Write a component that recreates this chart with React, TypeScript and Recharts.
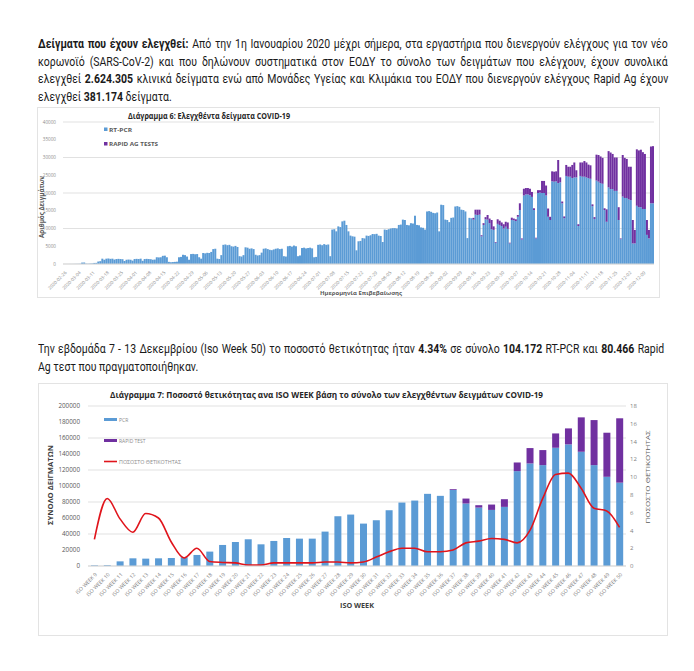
import React, { useLayoutEffect, useRef, useState } from "react";
import { BarChart, Bar, ComposedChart, Line, XAxis, YAxis, CartesianGrid } from "recharts";

// ---- Διάγραμμα 6: daily samples, ten days per row ----
const dailyStart = "2020-02-26";
const pcrDaily: number[] = [
  0, 0, 5, 10, 10, 20, 30, 40, 60, 400,
  420, 100, 80, 120, 150, 300, 320, 700, 800, 1500,
  1200, 1500, 1550, 1450, 1500, 1250, 1400, 1450, 1400, 1350,
  850, 1200, 1250, 1200, 950, 1400, 1450, 1400, 1500, 900,
  1400, 1450, 1400, 1350, 1200, 1250, 1900, 1850, 1900, 2300,
  2350, 1900, 600, 500, 550, 600, 650, 1900, 2000, 2600,
  2500, 2100, 1200, 2800, 2850, 2750, 2800, 1900, 1500, 3100,
  3000, 3150, 3100, 3400, 4200, 4300, 1500, 1400, 2500, 5400,
  5500, 5300, 5400, 5000, 4900, 5100, 4800, 2200, 2100, 2500,
  4700, 4600, 4300, 4400, 4200, 2600, 2400, 2500, 3200, 4300,
  4400, 4200, 4000, 3900, 4100, 4300, 4400, 4200, 4300, 2200,
  2100, 5000, 5100, 4900, 5200, 5000, 2200, 2400, 4500, 4600,
  4400, 4500, 4600, 4400, 1900, 2000, 5400, 5500, 5300, 5600,
  5400, 5500, 2200, 9700, 9800, 9200, 10600, 10400, 12000, 12200,
  11000, 9200, 8000, 7800, 7700, 3850, 6400, 6500, 7300, 7200,
  8000, 7900, 8100, 8450, 8400, 8500, 8000, 7900, 6200, 9700,
  9600, 9800, 10000, 10100, 10100, 10000, 11000, 11100, 12500, 12400,
  11000, 10900, 11500, 11400, 13600, 11000, 10900, 10300, 10200, 9700,
  14800, 14900, 14700, 14400, 14300, 14500, 9200, 16700, 16600, 12500,
  12400, 11800, 13000, 13100, 16200, 16300, 16100, 15300, 15200, 14800,
  7300, 13000, 12900, 12500, 13900, 13800, 13900, 7800, 11000, 12600,
  12500, 11500, 9800, 9600, 6000, 11300, 11000, 10700, 10000, 10500,
  9900, 5800, 12400, 12300, 12100, 13300, 15200, 6900, 19300, 19600,
  19600, 19400, 18900, 15200, 7200, 20000, 20100, 20000, 20000, 19300,
  13300, 12400, 23300, 23200, 23300, 22800, 23000, 17100, 12900, 24800,
  24600, 24600, 24200, 24400, 24400, 10700, 24800, 24600, 24600, 24400,
  24200, 24000, 16300, 12700, 23500, 23200, 22800, 22600, 15200, 11900,
  21600, 21100, 21100, 20600, 20600, 12400, 7000, 19000, 18600, 18600,
  18200, 18000, 5800, 5800, 16400, 16000, 16000, 15500, 15500, 8200,
  7200, 17100, 17100,
];
const rapidStart = "2020-09-16";
const rapidDaily: number[] = [
  500, 1400, 1500, 1400, 300, 500, 600,
  1300, 1300, 2600, 1000, 200, 1300, 1200, 1000, 1200, 1400,
  1800, 200, 650, 500, 500, 500, 1900, 300, 1900, 1800,
  1800, 1800, 1400, 500, 200, 800, 700, 3400, 3400, 2800,
  2300, 900, 2800, 2800, 2800, 6500, 1400, 500, 500, 3100,
  2800, 2800, 3700, 4200, 2000, 500, 3800, 4000, 4400, 4200,
  3800, 3800, 500, 500, 7300, 7500, 7500, 7300, 500, 3500,
  10200, 10300, 9900, 9400, 9400, 3600, 200, 11700, 11300, 11000,
  9200, 9400, 6600, 3800, 15900, 16000, 16200, 16000, 15500, 4200,
  2400, 16000, 16100,
];
const dailyTicks = [0, 5000, 10000, 15000, 20000, 25000, 30000, 35000, 40000];

// ---- Διάγραμμα 7: per ISO week ----
const isoWeeks = [
  "ISO WEEK 9", "ISO WEEK 10", "ISO WEEK 11", "ISO WEEK 12", "ISO WEEK 13", "ISO WEEK 14",
  "ISO WEEK 15", "ISO WEEK 16", "ISO WEEK 17", "ISO WEEK 18", "ISO WEEK 19", "ISO WEEK 20",
  "ISO WEEK 21", "ISO WEEK 22", "ISO WEEK 23", "ISO WEEK 24", "ISO WEEK 25", "ISO WEEK 26",
  "ISO WEEK 27", "ISO WEEK 28", "ISO WEEK 29", "ISO WEEK 30", "ISO WEEK 31", "ISO WEEK 32",
  "ISO WEEK 33", "ISO WEEK 34", "ISO WEEK 35", "ISO WEEK 36", "ISO WEEK 37", "ISO WEEK 38",
  "ISO WEEK 39", "ISO WEEK 40", "ISO WEEK 41", "ISO WEEK 42", "ISO WEEK 43", "ISO WEEK 44",
  "ISO WEEK 45", "ISO WEEK 46", "ISO WEEK 47", "ISO WEEK 48", "ISO WEEK 49", "ISO WEEK 50",
];
const pcrWeekly = [
  800, 1000, 5800, 9600, 9200, 9600, 10000, 11000, 13800, 18000, 26300, 30000, 33400, 27100,
  31300, 35000, 34200, 34200, 43000, 62200, 64300, 53000, 57200, 69700, 79300, 81800, 90200,
  87700, 95000, 78100, 73000, 70100, 73900, 118600, 128200, 126100, 147800, 152000, 142800,
  126100, 111500, 104172,
];
const rapidWeekly = [
  0, 0, 0, 0, 0, 0, 0, 0, 0, 0, 0, 0, 0, 0, 0, 0, 0, 0, 0, 0, 0, 0, 0, 0, 0, 0, 0, 0,
  1000, 6200, 3000, 6700, 9600, 10800, 19200, 18800, 17900, 20000, 43000, 56300, 55100, 80466,
];
const positivity = [
  3.0, 7.6, 5.3, 3.8, 5.9, 5.4, 2.7, 0.9, 2.0, 0.5, 0.4, 0.35, 0.1, 0.1, 0.35, 0.35, 0.35, 0.35,
  0.45, 0.45, 0.35, 0.45, 1.0, 1.6, 2.0, 2.0, 1.6, 1.6, 1.8, 2.6, 2.8, 3.1, 3.0, 2.6, 4.0, 7.6,
  10.3, 10.45, 8.75, 6.5, 6.2, 4.34,
];
const weeklyLeftTicks = [0, 20000, 40000, 60000, 80000, 100000, 120000, 140000, 160000, 180000, 200000];
const weeklyRightTicks = [0, 2, 4, 6, 8, 10, 12, 14, 16, 18];

const BLUE = "#5B9BD5";
const PURPLE = "#7030A0";
const RED = "#E0141B";
const GRID = "#D9D9D9";
const CHART_FONT = "'Open Sans', 'Noto Sans', sans-serif";

const dayIndex = (d: string) =>
  Math.round((Date.parse(d + "T00:00:00Z") - Date.parse(dailyStart + "T00:00:00Z")) / 86400000);
const rapidOffset = dayIndex(rapidStart);

const dailyData = pcrDaily.map((v, i) => ({
  date: new Date(Date.parse(dailyStart + "T00:00:00Z") + i * 86400000).toISOString().slice(0, 10),
  pcr: v,
  rapid: i >= rapidOffset ? rapidDaily[i - rapidOffset] ?? 0 : 0,
}));

const weeklyData = isoWeeks.map((w, i) => ({
  week: w,
  pcr: pcrWeekly[i],
  rapid: rapidWeekly[i],
  pos: positivity[i],
}));

const DateTick = ({ x, y, payload }: any) => (
  <text
    x={x + 3}
    y={y + 1}
    transform={`rotate(-45 ${x + 3} ${y + 1})`}
    textAnchor="end"
    fontSize={4.6}
    fill="#8c8c8c"
    fontFamily={CHART_FONT}
  >
    {payload.value}
  </text>
);

const WeekTick = ({ x, y, payload }: any) => (
  <text
    x={x + 3}
    y={y + 1}
    transform={`rotate(-45 ${x + 3} ${y + 1})`}
    textAnchor="end"
    fontSize={5.2}
    fill="#7f7f7f"
    fontFamily={CHART_FONT}
  >
    {payload.value}
  </text>
);

// paragraph text is drawn slightly condensed; each line is stretched to the column width
const SQUEEZE = 0.86;

function FitLine({ children, width, justify = true }: { children: React.ReactNode; width: number; justify?: boolean }) {
  const ref = useRef<HTMLSpanElement>(null);
  const [extra, setExtra] = useState<React.CSSProperties>({});
  useLayoutEffect(() => {
    const el = ref.current;
    if (!el) return;
    const w = el.offsetWidth;
    const spaces = (el.textContent || "").split(" ").length - 1;
    if (w > width) setExtra({ transform: `scaleX(${width / w})`, transformOrigin: "0 0" });
    else if (justify && spaces > 0) setExtra({ wordSpacing: (width - w) / spaces });
  }, [width, justify]);
  return (
    <div style={{ whiteSpace: "nowrap", height: 17.7 }}>
      <span ref={ref} style={{ display: "inline-block", ...extra }}>
        {children}
      </span>
    </div>
  );
}

export default function App() {
  const para: React.CSSProperties = {
    position: "absolute",
    left: 38,
    fontFamily: "Roboto, 'Noto Sans', sans-serif",
    fontSize: 12.2,
    lineHeight: "17.7px",
    color: "#1a1a1a",
    transform: `scaleX(${SQUEEZE})`,
    transformOrigin: "0 0",
  };
  const w1 = 630 / SQUEEZE;
  const w2 = 626 / SQUEEZE;
  return (
    <div style={{ position: "absolute", left: 0, top: 0, width: 694, height: 671, background: "#fff", overflow: "hidden" }}>
      <div style={{ ...para, top: 36, width: w1 }}>
        <FitLine width={w1}><b>Δείγματα που έχουν ελεγχθεί:</b> Από την 1η Ιανουαρίου 2020 μέχρι σήμερα, στα εργαστήρια που διενεργούν ελέγχους για τον νέο</FitLine>
        <FitLine width={w1}>κορωνοϊό (SARS-CoV-2) και που δηλώνουν συστηματικά στον ΕΟΔΥ το σύνολο των δειγμάτων που ελέγχουν, έχουν συνολικά</FitLine>
        <FitLine width={w1}>ελεγχθεί <b>2.624.305</b> κλινικά δείγματα ενώ από Μονάδες Υγείας και Κλιμάκια του ΕΟΔΥ που διενεργούν ελέγχους Rapid Ag έχουν</FitLine>
        <FitLine width={w1} justify={false}>ελεγχθεί <b>381.174</b> δείγματα.</FitLine>
      </div>

      <div style={{ ...para, top: 341, width: w2 }}>
        <FitLine width={w2}>Την εβδομάδα 7 - 13 Δεκεμβρίου (Iso Week 50) το ποσοστό θετικότητας ήταν <b>4.34%</b> σε σύνολο <b>104.172</b> RT-PCR και <b>80.466</b> Rapid</FitLine>
        <FitLine width={w2} justify={false}>Ag τεστ που πραγματοποιήθηκαν.</FitLine>
      </div>

      {/* Διάγραμμα 6 */}
      <div style={{ position: "absolute", left: 37, top: 107, width: 623, height: 191, border: "1px solid #e3e3e3", boxSizing: "border-box" }} />
      <div style={{ position: "absolute", left: 37, top: 107 }}>
        <BarChart width={623} height={191} data={dailyData} margin={{ top: 15, right: 6, left: 2, bottom: 4 }} barCategoryGap={0} barGap={0}>
          <CartesianGrid vertical={false} stroke={GRID} strokeWidth={0.8} />
          <XAxis dataKey="date" interval={6} tick={<DateTick />} tickLine={false} axisLine={{ stroke: GRID }} height={30} />
          <YAxis
            domain={[0, 40000]}
            ticks={dailyTicks}
            width={24}
            tickLine={false}
            axisLine={false}
            tickMargin={1}
            tick={{ fontSize: 4.6, fill: "#8c8c8c", fontFamily: CHART_FONT }}
          />
          <Bar dataKey="pcr" stackId="d" fill={BLUE} isAnimationActive={false} />
          <Bar dataKey="rapid" stackId="d" fill={PURPLE} isAnimationActive={false} />
        </BarChart>
      </div>

      {/* Διάγραμμα 7 */}
      <div style={{ position: "absolute", left: 38, top: 383, width: 630, height: 253, border: "1px solid #e3e3e3", boxSizing: "border-box" }} />
      <div style={{ position: "absolute", left: 38, top: 383 }}>
        <ComposedChart width={630} height={253} data={weeklyData} margin={{ top: 23, right: 12, left: 4, bottom: 20 }}>
          <CartesianGrid vertical={false} stroke={GRID} strokeWidth={0.8} yAxisId="left" />
          <XAxis dataKey="week" interval={0} tick={<WeekTick />} tickLine={false} axisLine={{ stroke: GRID }} height={50} />
          <YAxis
            yAxisId="left"
            domain={[0, 200000]}
            ticks={weeklyLeftTicks}
            width={46}
            tickLine={false}
            axisLine={false}
            tick={{ fontSize: 6.3, fill: "#595959", fontFamily: CHART_FONT }}
          />
          <YAxis
            yAxisId="right"
            orientation="right"
            domain={[0, 18]}
            ticks={weeklyRightTicks}
            width={30}
            tickSize={2}
            tickLine={false}
            axisLine={false}
            tick={{ fontSize: 6, fill: "#7f7f7f", fontFamily: CHART_FONT }}
          />
          <Bar yAxisId="left" dataKey="pcr" stackId="w" fill={BLUE} barSize={7} isAnimationActive={false} />
          <Bar yAxisId="left" dataKey="rapid" stackId="w" fill={PURPLE} barSize={7} isAnimationActive={false} />
          <Line yAxisId="right" type="monotone" dataKey="pos" stroke={RED} strokeWidth={1.6} dot={false} isAnimationActive={false} />
        </ComposedChart>
      </div>

      {/* titles, legends and axis titles */}
      <svg width={694} height={671} style={{ position: "absolute", left: 0, top: 0, pointerEvents: "none" }} fontFamily={CHART_FONT}>
        <text x={128} y={119} fontSize={8} fontWeight="bold" fill="#262626" textLength={162} lengthAdjust="spacingAndGlyphs">
          Διάγραμμα 6: Ελεγχθέντα δείγματα COVID-19
        </text>
        <rect x={104} y={127.5} width={3.5} height={3.5} fill={BLUE} />
        <text x={109} y={131.5} fontSize={6} fontWeight="bold" fill="#595959" textLength={23} lengthAdjust="spacingAndGlyphs">RT-PCR</text>
        <rect x={104} y={142} width={3.5} height={3.5} fill={PURPLE} />
        <text x={109} y={146} fontSize={6} fontWeight="bold" fill="#595959" textLength={49} lengthAdjust="spacingAndGlyphs">RAPID AG TESTS</text>
        <text x={44} y={207} transform="rotate(-90 44 207)" textAnchor="middle" fontSize={6.3} fontWeight="bold" fill="#595959" textLength={62} lengthAdjust="spacingAndGlyphs">
          Αριθμός Δειγμάτων
        </text>
        <text x={361} y={295} textAnchor="middle" fontSize={6} fontWeight="bold" fill="#595959" textLength={82} lengthAdjust="spacingAndGlyphs">
          Ημερομηνία Επιβεβαίωσης
        </text>

        <text x={110} y={398} fontSize={8.5} fontWeight="bold" fill="#262626" textLength={433} lengthAdjust="spacingAndGlyphs">
          Διάγραμμα 7: Ποσοστό θετικότητας ανα ISO WEEK  βάση το σύνολο των ελεγχθέντων δειγμάτων COVID-19
        </text>
        <rect x={104} y={418} width={13} height={3} fill={BLUE} />
        <text x={119} y={421.5} fontSize={5} fill="#8c8c8c">PCR</text>
        <rect x={104} y={439} width={13} height={3} fill={PURPLE} />
        <text x={119} y={442.5} fontSize={5} fill="#8c8c8c">RAPID TEST</text>
        <line x1={104} x2={117} y1={461.5} y2={461.5} stroke={RED} strokeWidth={1.6} />
        <text x={119} y={463.5} fontSize={5} fill="#8c8c8c" textLength={62} lengthAdjust="spacingAndGlyphs">ΠΟΣΟΣΤΟ ΘΕΤΙΚΟΤΗΤΑΣ</text>
        <text x={53} y={485} transform="rotate(-90 53 485)" textAnchor="middle" fontSize={7} fontWeight="bold" fill="#404040" textLength={80} lengthAdjust="spacingAndGlyphs">
          ΣΥΝΟΛΟ   ΔΕΙΓΜΑΤΩΝ
        </text>
        <text x={650} y={477} transform="rotate(-90 650 477)" textAnchor="middle" fontSize={6} fill="#595959" textLength={93} lengthAdjust="spacingAndGlyphs">
          ΠΟΣΟΣΤΟ ΘΕΤΙΚΟΤΗΤΑΣ
        </text>
        <text x={357} y={608} textAnchor="middle" fontSize={7} fontWeight="bold" fill="#404040" textLength={34} lengthAdjust="spacingAndGlyphs">
          ISO WEEK
        </text>
      </svg>
    </div>
  );
}
